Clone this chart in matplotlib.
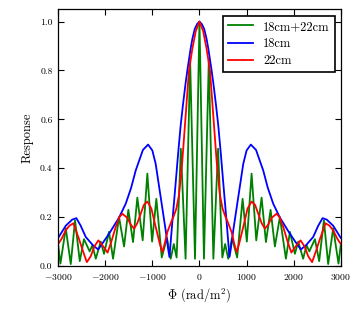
import numpy as np
import matplotlib
matplotlib.use("Agg")
import matplotlib.pyplot as plt

plt.rcParams.update({
    "font.family": "cmr10",
    "mathtext.fontset": "cm",
    "axes.formatter.use_mathtext": True,
    "axes.unicode_minus": True,
})

# ---- data (positive half; curves are symmetric) ----
phi_blue = [0, 50, 100, 150, 187, 250, 293, 350, 399, 453, 505, 576, 610, 637, 665,
            717, 823, 929, 1000, 1090, 1200, 1353, 1450, 1565, 1707, 1919, 2050,
            2150, 2260, 2413, 2520, 2612, 2700, 2837, 2979, 3000]
val_blue = [1.0, 0.99, 0.97, 0.93, 0.89, 0.81, 0.75, 0.66, 0.575, 0.46, 0.34, 0.18, 0.1,
            0.037, 0.07, 0.146, 0.282, 0.418, 0.473, 0.497, 0.475, 0.391, 0.32, 0.255,
            0.198, 0.132, 0.095, 0.068, 0.085, 0.119, 0.165, 0.196, 0.19, 0.165,
            0.121, 0.115]

phi_red = [0, 80, 150, 223, 293, 364, 435, 490, 541, 600, 682, 740, 788, 840, 929,
           1020, 1106, 1180, 1247, 1320, 1389, 1460, 1530, 1636, 1700, 1777, 1870,
           1950, 2040, 2145, 2230, 2307, 2390, 2470, 2555, 2675, 2760, 2837, 2930, 3000]
val_red = [1.0, 0.96, 0.89, 0.8, 0.616, 0.43, 0.29, 0.235, 0.207, 0.18, 0.139, 0.09,
           0.057, 0.09, 0.16, 0.235, 0.264, 0.25, 0.214, 0.175, 0.153, 0.17, 0.197,
           0.214, 0.2, 0.16, 0.1, 0.055, 0.08, 0.105, 0.08, 0.04, 0.016, 0.06, 0.11,
           0.175, 0.165, 0.146, 0.11, 0.09]

phi_green = [0, 95, 198, 295, 395, 485, 545, 610, 690, 800, 915, 1005, 1106, 1205,
             1318, 1410, 1509, 1600, 1706, 1834, 1919, 2025, 2095, 2200, 2272, 2330,
             2450, 2540, 2640, 2731, 2837, 2950, 3000]
val_green = [1.0, 0.03, 0.84, 0.03, 0.48, 0.035, 0.09, 0.03, 0.115, 0.035, 0.275, 0.1,
             0.378, 0.105, 0.28, 0.098, 0.23, 0.08, 0.2, 0.03, 0.14, 0.05, 0.1, 0.03,
             0.085, 0.06, 0.11, 0.02, 0.187, 0.008, 0.155, 0.01, 0.09]

labels = ["18cm+22cm", "18cm", "22cm"]
xticks = [-3000, -2000, -1000, 0, 1000, 2000, 3000]
yticks = [0.0, 0.2, 0.4, 0.6, 0.8, 1.0]


def mirror(p, v):
    p = np.asarray(p, float)
    v = np.asarray(v, float)
    return np.concatenate([-p[::-1], p[1:]]), np.concatenate([v[::-1], v[1:]])


fig = plt.figure(figsize=(3.63, 3.13), dpi=100)
ax = fig.add_axes([0.16, 0.150, 0.779, 0.820])

series = [(phi_green, val_green, "g"), (phi_blue, val_blue, "b"), (phi_red, val_red, "r")]
for (p, v, c), lab in zip(series, labels):
    x, y = mirror(p, v)
    ax.plot(x, y, color=c, lw=1.3, label=lab)

ax.set_xlim(-3000, 3000)
ax.set_ylim(0, 1.05)
ax.set_xticks(xticks)
ax.set_yticks(yticks)
ax.set_yticklabels(["%.1f" % t for t in yticks])
ax.tick_params(direction="in", top=True, right=True, length=4, width=0.8,
               labelsize=7)
ax.tick_params(axis="x", pad=4.5)
ax.tick_params(axis="y", pad=4)
for s in ax.spines.values():
    s.set_linewidth(0.9)

ax.set_xlabel(r"$\Phi$ (rad/m$^2$)", fontsize=9, labelpad=3)
ax.set_ylabel("Response", fontsize=9, labelpad=5)

leg = ax.legend(loc="upper right", fontsize=9, fancybox=False, framealpha=1,
                edgecolor="black", handlelength=2.0, borderaxespad=0.5,
                labelspacing=0.4)
leg.get_frame().set_linewidth(1.2)

fig.savefig("out.png", dpi=100)
